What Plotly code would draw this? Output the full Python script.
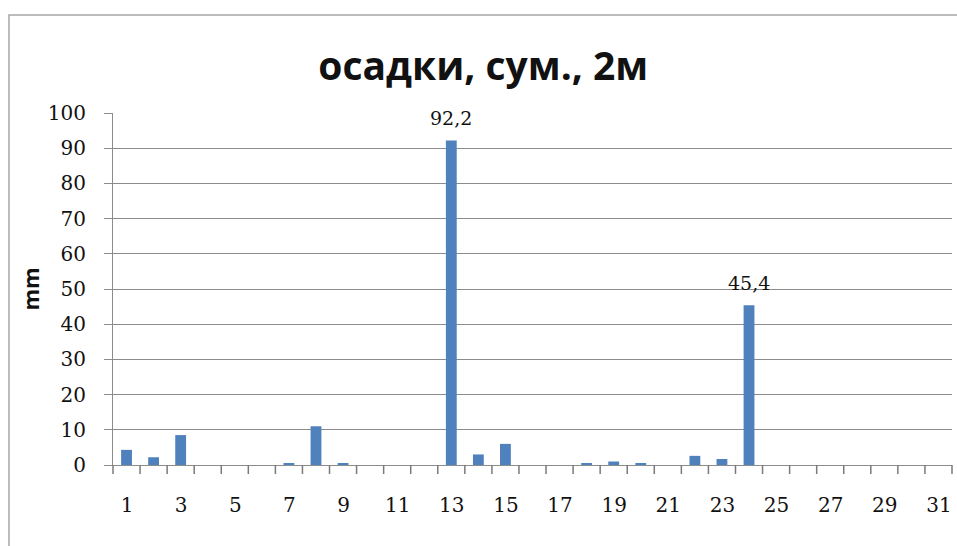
import plotly.graph_objects as go

# Daily precipitation totals, mm
days = list(range(1, 32))
precip = [4.3, 2.2, 8.5, 0, 0, 0, 0.5, 11.0, 0.5, 0, 0, 0, 92.2, 3.0, 6.0,
          0, 0, 0.4, 1.0, 0.5, 0, 2.6, 1.7, 45.4, 0, 0, 0, 0, 0, 0, 0]
labelled_days = [13, 24]
x_label_days = list(range(1, 32, 2))
y_ticks = list(range(0, 101, 10))

W, H = 957, 546
ML, MR, MT, MB = 113, 5, 113, 81
PW, PH = W - ML - MR, H - MT - MB
x_lo, x_hi = days[0] - 0.5, days[-1] + 0.5
cat_px = PW / (x_hi - x_lo)
grid = "#8c8c8c"

fig = go.Figure(go.Bar(
    x=days, y=precip, width=0.4,
    marker=dict(color="#4F81BD", line=dict(width=0)),
))

# value labels above the two largest bars
for d, v in zip(days, precip):
    if d in labelled_days:
        fig.add_annotation(
            x=d, y=v, text=f"{v:.1f}".replace(".", ","), showarrow=False,
            yanchor="bottom", yshift=9,
            font=dict(family="DejaVu Serif", size=19, color="#111111"))

# tick marks sit on the category boundaries; labels are shifted onto the bars
boundaries = [d - 0.5 for d in days] + [x_hi]
boundary_text = [str(int(b + 0.5)) if int(b + 0.5) in x_label_days else ""
                 for b in boundaries]

tick_shapes = [dict(type="line", xref="paper", yref="paper",
                    x0=(b - x_lo) / (x_hi - x_lo), x1=(b - x_lo) / (x_hi - x_lo),
                    y0=0, y1=-9 / PH, line=dict(color="#7a7a7a", width=1.5))
               for b in boundaries]

frame = dict(type="rect", xref="paper", yref="paper",
             x0=(9 - ML) / PW, x1=(W + 10 - ML) / PW,
             y0=-(MB + 20) / PH, y1=(H - 15 - MB) / PH,
             line=dict(color="#a6a6a6", width=1.5), layer="below")

fig.update_layout(
    width=W, height=H,
    margin=dict(l=ML, r=MR, t=MT, b=MB),
    paper_bgcolor="white", plot_bgcolor="white",
    showlegend=False,
    title=dict(text="<b>осадки, сум., 2м</b>", xref="container", x=0.505,
               y=0.878, yanchor="middle", xanchor="center",
               font=dict(family="Open Sans", size=39, color="#111111")),
    xaxis=dict(
        range=[x_lo, x_hi], tickmode="array", tickvals=boundaries,
        ticktext=boundary_text, ticks="",
        ticklabelshift=int(round(cat_px / 2)),
        showgrid=False, zeroline=False, showline=True, linecolor=grid,
        linewidth=1, ticklabelstandoff=22,
        tickfont=dict(family="DejaVu Serif", size=20, color="#111111"),
    ),
    yaxis=dict(
        range=[0, 100], tickvals=y_ticks, ticks="outside", ticklen=8,
        tickcolor=grid, showgrid=True, gridcolor=grid, gridwidth=1,
        zeroline=False, showline=True, linecolor=grid, linewidth=1,
        ticklabelstandoff=14,
        tickfont=dict(family="DejaVu Serif", size=20, color="#111111"),
        title=dict(text="<b>mm</b>", standoff=2,
                   font=dict(family="Open Sans", size=22, color="#111111")),
    ),
    shapes=[frame] + tick_shapes,
)

fig.write_html("out.html")
